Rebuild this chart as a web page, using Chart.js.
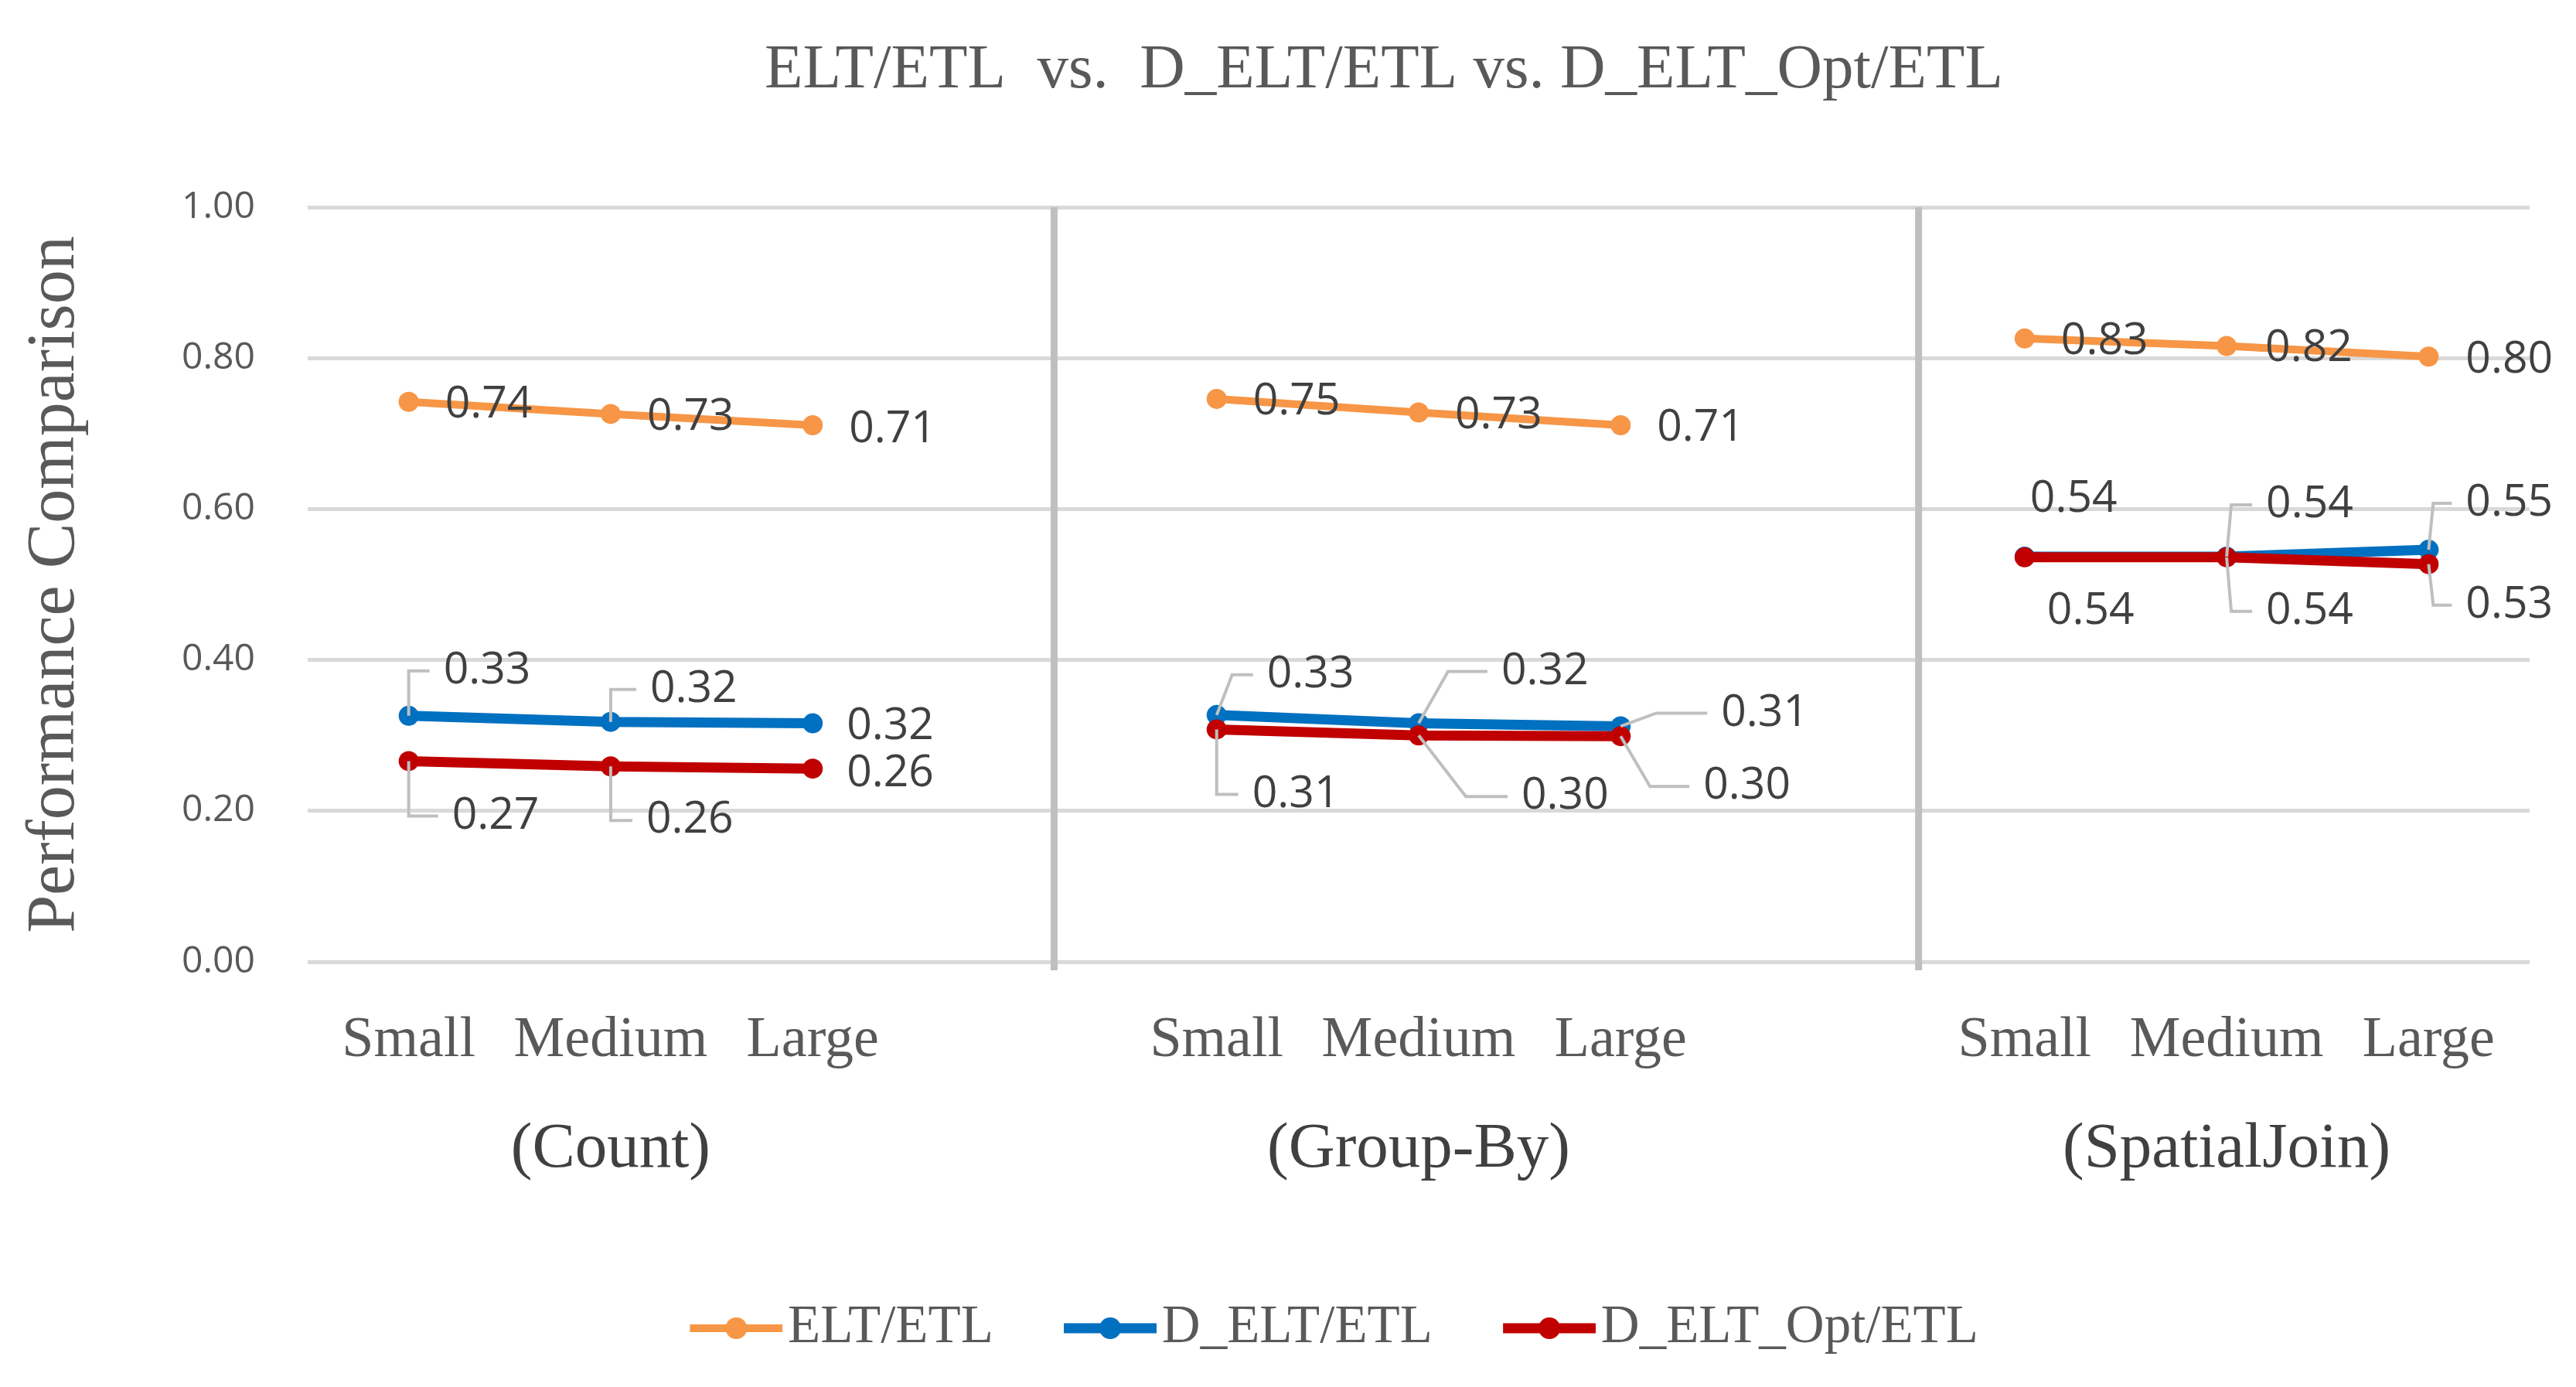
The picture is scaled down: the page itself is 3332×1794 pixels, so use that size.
<!DOCTYPE html>
<html lang="en">
<head>
<meta charset="UTF-8" />
<title>ELT/ETL vs. D_ELT/ETL vs. D_ELT_Opt/ETL</title>
<script src="https://cdn.jsdelivr.net/npm/chart.js"></script>
<style>
  html, body { margin: 0; padding: 0; background: #fff; }
  canvas { display: block; }
</style>
</head>
<body>
<canvas id="perfChart" width="3332" height="1794"></canvas>
<script>
  // categories: one blank slot between the three query groups
  const sizeLabels = ['Small', 'Medium', 'Large', '', 'Small', 'Medium', 'Large', '', 'Small', 'Medium', 'Large'];
  const groupNames = ['(Count)', '(Group-By)', '(SpatialJoin)'];
  const groupCenters = [1, 5, 9];          // category index each group name sits under
  const separators = [3.195, 7.475];       // category positions of the grey dividers

  const seriesNames = ['ELT/ETL', 'D_ELT/ETL', 'D_ELT_Opt/ETL'];
  const eltEtl     = [0.742, 0.726, 0.711, null, 0.746, 0.728, 0.711, null, 0.826, 0.816, 0.802];
  const dEltEtl    = [0.326, 0.318, 0.316, null, 0.327, 0.316, 0.312, null, 0.537, 0.537, 0.546];
  const dEltOptEtl = [0.266, 0.259, 0.256, null, 0.308, 0.300, 0.299, null, 0.536, 0.536, 0.527];

  // label placement relative to its point: [dx, dy, leader elbow dx or null]
  const eltOffsets  = [[47,4,null],[47,4,null],[47,6,null],null,[47,4,null],[47,4,null],[47,4,null],null,[47,4,null],[50,3,null],[48,5,null]];
  const dEltOffsets = [[45,-58,0],[51,-42,0],[44,4,null],null,[65,-52,20],[107,-67,38],[130,-17,46],null,[7,-74,null],[51,-67,6],[48,-60,6]];
  const dOptOffsets = [[56,71,0],[46,70,0],[44,7,null],null,[46,84,0],[133,79,61],[107,65,38],null,[29,70,null],[51,70,6],[48,53,6]];
  const labelOffsets = [eltOffsets, dEltOffsets, dOptOffsets];

  const colors = ['#F79646', '#0070C0', '#C00000'];
  const lineWidths = [10, 13, 13];

  const serif = '"Liberation Serif", "DejaVu Serif", serif';
  const sans = '"Open Sans", "Noto Sans", sans-serif';

  function legendMark(color, lw) {
    const c = document.createElement('canvas');
    c.width = 229; c.height = 32;
    const g = c.getContext('2d');
    g.strokeStyle = color;
    g.lineWidth = lw;
    g.beginPath(); g.moveTo(109, 16); g.lineTo(229, 16); g.stroke();
    g.fillStyle = color;
    g.beginPath(); g.arc(169, 16, 14, 0, Math.PI * 2); g.fill();
    return c;
  }
  const marks = colors.map((c, i) => legendMark(c, lineWidths[i]));

  const decorPlugin = {
    id: 'decor',
    afterLayout(chart) {
      // nudge title and legend sideways to where the original has them
      chart.titleBlock.left += 54;
      chart.titleBlock.right += 54;
      chart.legend.left -= 51;
      chart.legend.right -= 51;
    },
    beforeDatasetsDraw(chart) {
      const ctx = chart.ctx;
      const x = chart.scales.x;
      const area = chart.chartArea;
      ctx.save();
      ctx.strokeStyle = '#bfbfbf';
      ctx.lineWidth = 9;
      separators.forEach(s => {
        const px = x.getPixelForValue(s);
        ctx.beginPath();
        ctx.moveTo(px, area.top);
        ctx.lineTo(px, area.bottom + 11);
        ctx.stroke();
      });
      ctx.restore();
    },
    afterDatasetsDraw(chart) {
      const ctx = chart.ctx;
      ctx.save();
      ctx.font = '57px ' + sans;
      ctx.textBaseline = 'middle';
      ctx.textAlign = 'left';
      chart.data.datasets.forEach((ds, di) => {
        const meta = chart.getDatasetMeta(di);
        meta.data.forEach((pt, i) => {
          const v = ds.data[i];
          if (v == null) return;
          const [dx, dy, ex] = labelOffsets[di][i];
          const lx = pt.x + dx, ly = pt.y + dy;
          if (ex !== null) {
            ctx.strokeStyle = '#bfbfbf';
            ctx.lineWidth = 4;
            ctx.beginPath();
            ctx.moveTo(pt.x, pt.y);
            ctx.lineTo(pt.x + ex, ly);
            ctx.lineTo(lx - 18, ly);
            ctx.stroke();
          }
          ctx.fillStyle = '#404040';
          ctx.fillText(v.toFixed(2), lx, ly);
        });
      });
      ctx.restore();
    },
    afterDraw(chart) {
      const ctx = chart.ctx;
      const x = chart.scales.x;
      ctx.save();
      ctx.font = '83px ' + serif;
      ctx.fillStyle = '#404040';
      ctx.textAlign = 'center';
      ctx.textBaseline = 'middle';
      groupNames.forEach((name, i) => {
        ctx.fillText(name, x.getPixelForValue(groupCenters[i]), 1487);
      });
      ctx.restore();
    }
  };

  const datasets = [eltEtl, dEltEtl, dEltOptEtl].map((data, i) => ({
    label: seriesNames[i],
    data: data,
    borderColor: colors[i],
    backgroundColor: colors[i],
    pointBackgroundColor: colors[i],
    pointBorderWidth: 0,
    pointRadius: 13,
    pointHoverRadius: 13,
    borderWidth: lineWidths[i],
    tension: 0,
    spanGaps: false,
    order: 2 - i
  }));

  new Chart(document.getElementById('perfChart'), {
    type: 'line',
    data: { labels: sizeLabels, datasets: datasets },
    options: {
      responsive: false,
      devicePixelRatio: 1,
      animation: false,
      events: [],
      layout: { padding: { left: 200, right: 60, top: 0, bottom: 31.5 } },
      plugins: {
        title: {
          display: true,
          text: 'ELT/ETL  vs.  D_ELT/ETL vs. D_ELT_Opt/ETL',
          color: '#595959',
          font: { family: serif, size: 81, weight: 'normal' },
          padding: { top: 43, bottom: 127.8 }
        },
        legend: {
          position: 'bottom',
          labels: {
            usePointStyle: true,
            pointStyleWidth: 173.5,
            padding: 10,
            color: '#595959',
            font: { family: serif, size: 69 },
            sort: (a, b) => a.datasetIndex - b.datasetIndex,
            generateLabels: chart =>
              Chart.defaults.plugins.legend.labels.generateLabels(chart)
                .map(item => Object.assign(item, { pointStyle: marks[item.datasetIndex] }))
          }
        },
        tooltip: { enabled: false }
      },
      scales: {
        x: {
          offset: true,
          grid: { display: false },
          border: { display: false },
          ticks: {
            autoSkip: false,
            maxRotation: 0,
            minRotation: 0,
            padding: 50.6,
            color: '#595959',
            font: { family: serif, size: 74 }
          },
          afterFit: scale => { scale.height = 429.5; }
        },
        y: {
          min: 0,
          max: 1,
          border: { display: false },
          grid: { color: '#d9d9d9', lineWidth: 5, drawTicks: false },
          ticks: {
            stepSize: 0.2,
            padding: 68,
            color: '#595959',
            font: { family: sans, size: 48 },
            callback: v => v.toFixed(2)
          },
          title: {
            display: true,
            text: 'Performance Comparison',
            color: '#595959',
            font: { family: serif, size: 88 },
            padding: { top: -180.8, bottom: 0 }
          },
          afterFit: scale => { scale.width = 198; }
        }
      }
    },
    plugins: [decorPlugin]
  });
</script>
</body>
</html>
